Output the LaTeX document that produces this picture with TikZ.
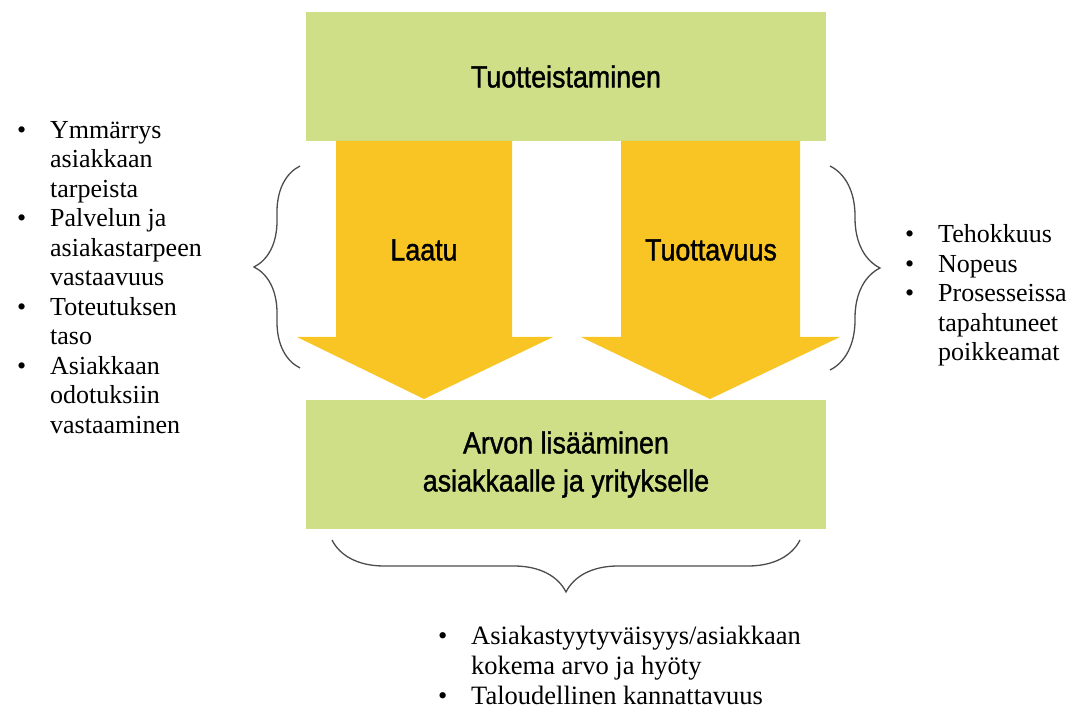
\documentclass[tikz,border=0pt]{standalone}
\usepackage{fontspec}
\setmainfont{Liberation Serif}
\newfontfamily\headfont[FakeStretch=0.88,FakeBold=1.3]{Liberation Sans}
\usetikzlibrary{decorations.pathreplacing}
\definecolor{boxgreen}{RGB}{207,223,136}
\definecolor{arrowyellow}{RGB}{248,197,36}
\newcommand{\bul}{\makebox[33pt][l]{\textbullet}}
\newcommand{\ind}{\hspace*{33pt}}

\begin{document}
\begin{tikzpicture}[x=1pt,y=-1pt,
  greenbox/.style={fill=boxgreen, minimum width=520pt, minimum height=129pt, inner sep=0pt,
    font=\headfont\fontsize{30.5}{38}\selectfont, align=center},
  arrowtext/.style={font=\headfont\fontsize{30.5}{38}\selectfont},
  itemlist/.style={font=\fontsize{26}{29.5}\selectfont, align=left, inner sep=0pt, anchor=north west},
  curly/.style={decorate, decoration={brace, amplitude=#1}, draw=black!70, line width=1.3pt}]
  \useasboundingbox (0,0) rectangle (1077,708);

  \node[greenbox] (tuote) at (566,76.5) {Tuotteistaminen};
  \node[greenbox] (arvo) at (566,464.5) {Arvon lisääminen\\asiakkaalle ja yritykselle};

  \fill[arrowyellow] (336,141) -- (512,141) -- (512,337) -- (553,337) -- (424,399)
    -- (297,337) -- (336,337) -- cycle;
  \fill[arrowyellow] (621,141) -- (800,141) -- (800,337) -- (840,337) -- (710,399)
    -- (581,337) -- (621,337) -- cycle;
  \node[arrowtext] (laatu) at (424,250) {Laatu};
  \node[arrowtext] (tuotto) at (711,250) {Tuottavuus};

  \draw[curly=46pt] (300,368) -- (300,166);
  \draw[curly=50pt] (830,166) -- (830,370);
  \draw[curly=52pt] (800,540) -- (332,540);

  \node[itemlist] (vasen) at (17,121) {\bul Ymmärrys\\ \ind asiakkaan\\ \ind tarpeista\\
    \bul Palvelun ja\\ \ind asiakastarpeen\\ \ind vastaavuus\\ \bul Toteutuksen\\ \ind taso\\
    \bul Asiakkaan\\ \ind odotuksiin\\ \ind vastaaminen};
  \node[itemlist] (oikea) at (905,224.5) {\bul Tehokkuus\\ \bul Nopeus\\ \bul Prosesseissa\\
    \ind tapahtuneet\\ \ind poikkeamat};
  \node[itemlist, font=\fontsize{26.5}{29.8}\selectfont] (ala) at (438,626) {\bul Asiakastyytyväisyys/asiakkaan\\
    \ind kokema arvo ja hyöty\\ \bul Taloudellinen kannattavuus};
\end{tikzpicture}
\end{document}
